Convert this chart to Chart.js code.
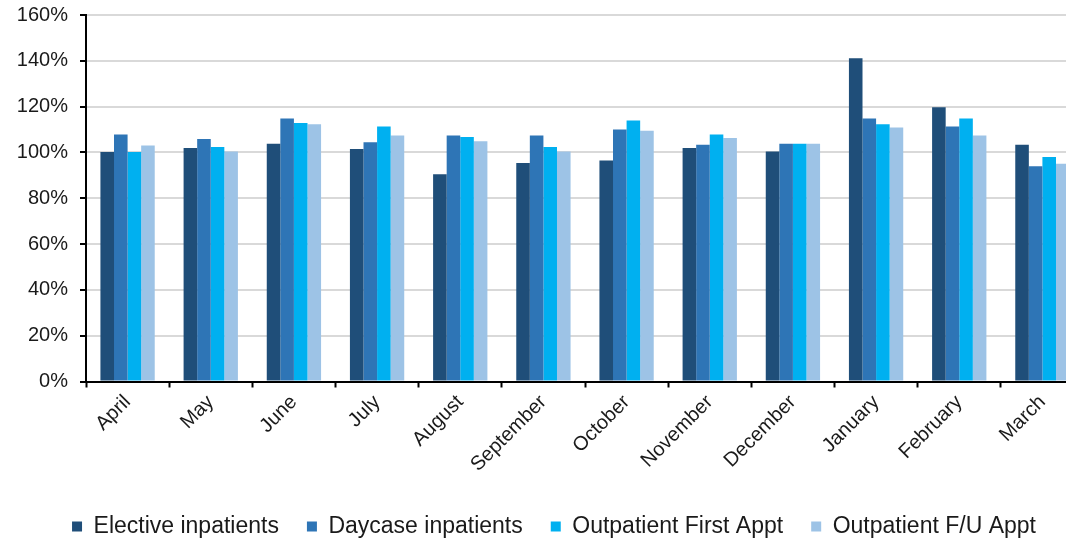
<!DOCTYPE html>
<html>
<head>
<meta charset="utf-8">
<script src="https://cdn.jsdelivr.net/npm/chart.js@4/dist/chart.umd.min.js"></script>
<style>
  html, body { margin: 0; padding: 0; background: #fff; overflow: hidden; }
  #wrap { width: 1110px; height: 548px; }
</style>
</head>
<body>
<div id="wrap"><canvas id="c" width="1110" height="548"></canvas></div>
<script>
// Monthly activity as a percentage of plan
const months = ['April', 'May', 'June', 'July', 'August', 'September', 'October',
                'November', 'December', 'January', 'February', 'March'];
const electiveInpatients = [100.2, 101.9, 103.8, 101.5, 90.5, 95.4, 96.5, 101.9, 100.4, 141.1, 119.7, 103.4];
const daycaseInpatients = [107.8, 105.9, 114.8, 104.4, 107.4, 107.4, 110.0, 103.4, 103.8, 114.8, 111.3, 94.0];
const outpatientFirst = [100.2, 102.4, 112.9, 111.3, 106.7, 102.4, 113.9, 107.8, 103.8, 112.3, 114.8, 98.0];
const outpatientFollowUp = [103.0, 100.4, 112.3, 107.4, 104.9, 100.4, 109.5, 106.3, 103.8, 110.9, 107.4, 95.1];
const yTicks = [0, 20, 40, 60, 80, 100, 120, 140, 160];

const seriesNames = ['Elective inpatients', 'Daycase inpatients', 'Outpatient First Appt', 'Outpatient F/U Appt'];
const seriesData = [electiveInpatients, daycaseInpatients, outpatientFirst, outpatientFollowUp];
const seriesColors = ['#1F4E79', '#2E75B6', '#00B0F0', '#9DC3E6'];

const textColor = '#1a1a1a';
const fontFamily = "'Liberation Sans', Arial, sans-serif";

// Nudges the legend row a few pixels to the right after layout
const legendShift = {
  id: 'legendShift',
  afterLayout(chart) {
    if (chart.legend) {
      chart.legend.left += 5;
      chart.legend.right += 5;
    }
  }
};

new Chart(document.getElementById('c'), {
  type: 'bar',
  data: {
    labels: months,
    datasets: seriesNames.map((name, i) => ({
      label: name,
      data: seriesData[i],
      backgroundColor: seriesColors[i],
      borderWidth: 0,
      categoryPercentage: 0.653,
      barPercentage: 1.0
    }))
  },
  plugins: [legendShift],
  options: {
    responsive: false,
    devicePixelRatio: 1,
    animation: false,
    layout: { padding: { left: 14, right: 26, top: 15, bottom: 0 } },
    plugins: {
      tooltip: { enabled: false },
      legend: {
        position: 'bottom',
        labels: {
          boxWidth: 10,
          boxHeight: 10,
          padding: 28,
          color: textColor,
          font: { family: fontFamily, size: 23 }
        }
      }
    },
    scales: {
      x: {
        grid: {
          display: true,
          drawOnChartArea: false,
          offset: true,
          tickLength: 6,
          tickColor: '#000',
          tickWidth: 2
        },
        border: { color: '#000', width: 2 },
        ticks: {
          minRotation: 45,
          maxRotation: 45,
          padding: 3,
          color: textColor,
          font: { family: fontFamily, size: 20 }
        },
        afterFit: (scale) => {
          scale.height = 105.5;
          scale.paddingLeft = 0;
          scale.paddingRight = 0;
        }
      },
      y: {
        min: 0,
        max: 160,
        afterBuildTicks: (scale) => { scale.ticks = yTicks.map(v => ({ value: v })); },
        grid: {
          color: '#d9d9d9',
          lineWidth: 2,
          tickLength: 6,
          tickColor: '#000',
          tickWidth: 2
        },
        border: { color: '#000', width: 2 },
        ticks: {
          padding: 12,
          color: textColor,
          font: { family: fontFamily, size: 20 },
          callback: (v) => v + '%'
        },
        afterFit: (scale) => {
          scale.width = 72;
          scale.paddingTop = 0;
          scale.paddingBottom = 0;
        }
      }
    }
  }
});
</script>
</body>
</html>
